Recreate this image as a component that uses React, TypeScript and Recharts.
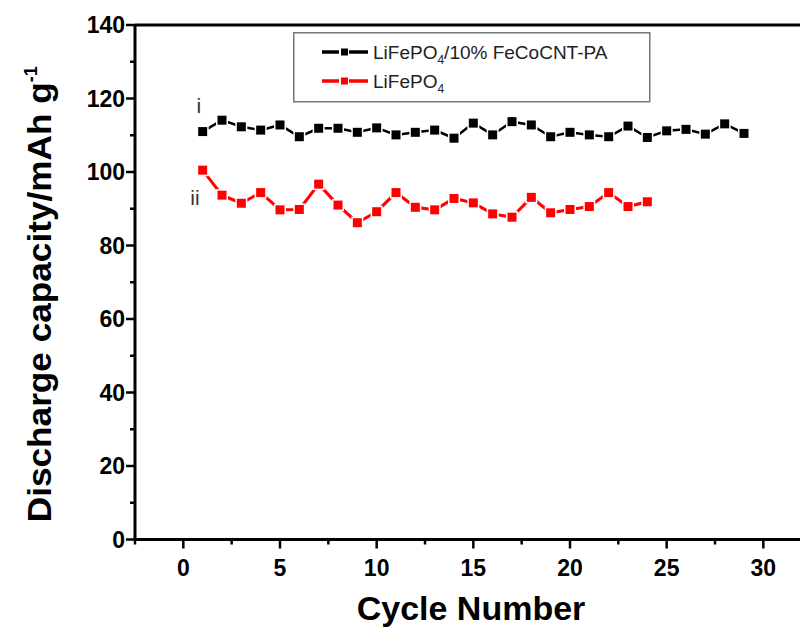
import React from 'react';
import { LineChart, Line, XAxis, YAxis, ReferenceLine, ReferenceDot, Legend, Label } from 'recharts';

// cycle numbers
const compositeCycles = [1, 2, 3, 4, 5, 6, 7, 8, 9, 10, 11, 12, 13, 14, 15, 16, 17, 18, 19, 20, 21, 22, 23, 24, 25, 26, 27, 28, 29];
const bareCycles = [1, 2, 3, 4, 5, 6, 7, 8, 9, 10, 11, 12, 13, 14, 15, 16, 17, 18, 19, 20, 21, 22, 23, 24];

// discharge capacity, mAh/g
const compositeCapacity = [111.0, 114.1, 112.3, 111.4, 112.8, 109.6, 111.9, 111.9, 110.8, 112.0, 110.1, 110.8, 111.4, 109.2, 113.3, 110.1, 113.7, 112.8, 109.6, 110.8, 110.1, 109.6, 112.5, 109.4, 111.2, 111.6, 110.3, 113.1, 110.5];
const bareCapacity = [100.5, 93.7, 91.5, 94.4, 89.7, 89.8, 96.7, 91.0, 86.2, 89.2, 94.4, 90.4, 89.7, 92.8, 91.6, 88.6, 87.7, 93.1, 88.9, 89.8, 90.6, 94.4, 90.6, 91.9];

const seriesNames = ['LiFePO4/10% FeCoCNT-PA', 'LiFePO4'];
const seriesColors = ['#000000', '#ff0000'];

const xMajorTicks = [0, 5, 10, 15, 20, 25, 30];
const xMinorTicks = [-2.5, 2.5, 7.5, 12.5, 17.5, 22.5, 27.5, 32.5];
const yMajorTicks = [0, 20, 40, 60, 80, 100, 120, 140];
const yMinorTicks = [10, 30, 50, 70, 90, 110, 130];

const compositeData = compositeCycles.map((c, i) => ({ cycle: c, value: compositeCapacity[i] }));
const bareData = bareCycles.map((c, i) => ({ cycle: c, value: bareCapacity[i] }));

const FONT = '"Liberation Sans", Arial, sans-serif';

const XTick = (props: any) => {
  const { x, y, payload } = props;
  const major = xMajorTicks.includes(payload.value);
  return (
    <g>
      <line x1={x} x2={x} y1={y} y2={y + (major ? 9 : 5)} stroke="#000" strokeWidth={2.5} />
      {major && (
        <text x={x} y={y + 36} textAnchor="middle" fontFamily={FONT} fontWeight="bold" fontSize={23} fill="#000">
          {payload.value}
        </text>
      )}
    </g>
  );
};

const YTick = (props: any) => {
  const { x, y, payload } = props;
  const major = yMajorTicks.includes(payload.value);
  return (
    <g>
      <line x1={x} x2={x - (major ? 9 : 5)} y1={y} y2={y} stroke="#000" strokeWidth={2.5} />
      {major && (
        <text x={x - 10} y={y} dy="0.36em" textAnchor="end" fontFamily={FONT} fontWeight="bold" fontSize={23} fill="#000">
          {payload.value}
        </text>
      )}
    </g>
  );
};

const SquareDot = (props: any) => {
  const { cx, cy, stroke } = props;
  if (cx == null || cy == null) return null;
  return (
    <g>
      <rect x={cx - 6} y={cy - 6} width={12} height={12} fill="#fff" />
      <rect x={cx - 4.5} y={cy - 4.5} width={9} height={9} fill={stroke} />
    </g>
  );
};

const renderName = (name: string) => {
  const parts = name.split('PO4');
  return (
    <>
      {parts[0]}PO<tspan dy={5} fontSize={12}>4</tspan>
      <tspan dy={-5}>{parts[1]}</tspan>
    </>
  );
};

const LegendBox = () => (
  <svg width={358} height={71}>
    <rect x={0.75} y={0.75} width={356} height={69} fill="#fff" stroke="#777" strokeWidth={1.5} />
    {seriesNames.map((name, i) => {
      const cy = 20 + i * 29;
      return (
        <g key={name}>
          <line x1={29} x2={75} y1={cy} y2={cy} stroke={seriesColors[i]} strokeWidth={3.5} />
          <rect x={46} y={cy - 5} width={10} height={10} fill="#fff" />
          <rect x={48} y={cy - 3.5} width={7} height={7} fill={seriesColors[i]} />
          <text x={80} y={cy} dy="0.36em" fontFamily={FONT} fontSize={19} fill="#222">
            {renderName(name)}
          </text>
        </g>
      );
    })}
  </svg>
);

export default function App() {
  return (
    <div style={{ width: 800, height: 631, overflow: 'hidden', background: '#fff' }}>
      <style>{'body{margin:0}'}</style>
      <LineChart width={831} height={631} margin={{ top: 25, right: 0, bottom: 0, left: 0 }}>
        <XAxis
          type="number"
          dataKey="cycle"
          domain={[-2.5, 33.5]}
          ticks={[...xMinorTicks, ...xMajorTicks].sort((a, b) => a - b)}
          interval={0}
          allowDataOverflow
          height={91.5}
          tickSize={0}
          tickMargin={0}
          tick={<XTick />}
          tickLine={false}
          axisLine={{ stroke: '#000', strokeWidth: 3 }}
        >
          <Label
            content={(p: any) => {
              const vb = p.viewBox;
              return (
                <text x={vb.x + vb.width / 2 - 12} y={vb.y + 80} textAnchor="middle" fontFamily={FONT} fontWeight="bold" fontSize={34} fill="#000">
                  Cycle Number
                </text>
              );
            }}
          />
        </XAxis>
        <YAxis
          type="number"
          domain={[0, 140]}
          ticks={[...yMinorTicks, ...yMajorTicks].sort((a, b) => a - b)}
          interval={0}
          width={135}
          tickSize={0}
          tickMargin={0}
          tick={<YTick />}
          tickLine={false}
          axisLine={{ stroke: '#000', strokeWidth: 3 }}
        >
          <Label
            content={(p: any) => {
              const vb = p.viewBox;
              const cx = 39;
              const cy = vb.y + vb.height / 2 + 12;
              return (
                <text transform={`rotate(-90 ${cx} ${cy})`} x={cx} y={cy} dy="0.36em" textAnchor="middle" fontFamily={FONT} fontWeight="bold" fontSize={34} fill="#000">
                  <tspan textLength={440} lengthAdjust="spacingAndGlyphs">Discharge capacity/mAh g</tspan>
                  <tspan dy={-14} fontSize={18}>-1</tspan>
                </text>
              );
            }}
          />
        </YAxis>
        <ReferenceLine y={140} stroke="#000" strokeWidth={3} />
        <Legend
          layout="horizontal"
          verticalAlign="middle"
          align="center"
          wrapperStyle={{ top: 32, left: 293, width: 358, height: 71, margin: 0 }}
          content={() => <LegendBox />}
        />
        <Line
          data={compositeData}
          dataKey="value"
          name={seriesNames[0]}
          stroke={seriesColors[0]}
          strokeWidth={2.5}
          dot={(p: any) => <SquareDot key={`a-${p.index}`} {...p} />}
          activeDot={false}
          isAnimationActive={false}
        />
        <Line
          data={bareData}
          dataKey="value"
          name={seriesNames[1]}
          stroke={seriesColors[1]}
          strokeWidth={3}
          dot={(p: any) => <SquareDot key={`b-${p.index}`} {...p} />}
          activeDot={false}
          isAnimationActive={false}
        />
        <ReferenceDot x={0.8} y={118} r={0} fill="none" stroke="none" label={{ value: 'i', position: 'center', fontSize: 21, fill: '#333', fontFamily: FONT }} />
        <ReferenceDot x={0.6} y={93} r={0} fill="none" stroke="none" label={{ value: 'ii', position: 'center', fontSize: 21, fill: '#333', fontFamily: FONT }} />
      </LineChart>
    </div>
  );
}
